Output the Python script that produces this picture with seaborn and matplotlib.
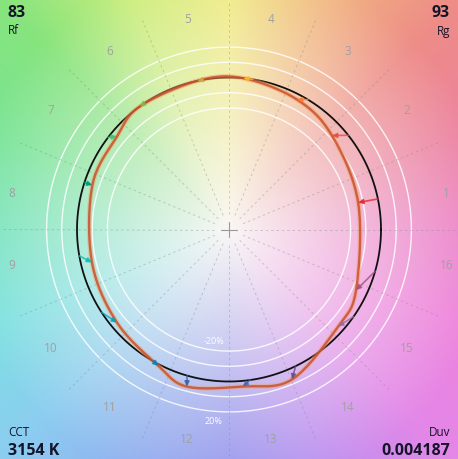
import numpy as np
import pandas as pd
import matplotlib
matplotlib.use("Agg")
import matplotlib.pyplot as plt
import seaborn as sns

# ---------------- data ----------------
bins = list(range(1, 17))
bin_labels = [str(b) for b in bins]
# reference (start) hue angle of each bin's arrow, degrees
ref_angle = [11.6, 38.3, 58.7, 81.0, 101.0, 124.0, 142.7, 162.0,
             190.0, 213.0, 240.0, 254.0, 278.0, 296.0, 325.0, 344.0]
# test (end) hue angle and relative chroma of each bin
test_angle = [11.8, 42.4, 62.4, 84.7, 102.0, 126.0, 140.3, 162.0,
              193.5, 219.7, 242.6, 255.0, 275.0, 292.8, 318.4, 334.5]
test_chroma = [0.868, 0.917, 0.965, 1.0, 1.0, 1.0, 0.958, 0.945,
               0.927, 0.958, 1.01, 1.07, 1.037, 1.07, 0.96, 0.926]
bin_colors = ["#e62828", "#e74b4b", "#fb812e", "#ffb529", "#cba946", "#7ebb42",
              "#41c06d", "#009c7c", "#16bcb0", "#00a4bf", "#0085c3", "#3b62aa",
              "#4568ae", "#6a4e85", "#9d69a1", "#a74f81"]
ring_levels = [0.8, 0.9, 1.1, 1.2]
Rf, Rg = "83", "93"
CCT, Duv = "3154 K", "0.004187"

# background hue anchors (angle deg, rgb at full saturation)
bg_angles = [0, 22.5, 45, 67.5, 90, 112.5, 135, 157.5, 180, 202.5, 225, 247.5,
             270, 292.5, 315, 337.5, 360]
bg_rgb = [(236, 128, 200), (236, 130, 160), (238, 140, 135), (242, 185, 130),
          (240, 235, 130), (205, 238, 125), (135, 228, 125), (120, 228, 150),
          (120, 228, 190), (125, 225, 225), (140, 205, 240), (145, 175, 240),
          (150, 150, 238), (190, 145, 240), (228, 135, 232), (238, 130, 220),
          (236, 128, 200)]


def closed_smooth(xs, ys, n=20):
    """Periodic Catmull-Rom rendering of a closed polygon (drawing only)."""
    P = np.column_stack([xs, ys])
    m = len(P)
    out = []
    for i in range(m):
        p0, p1, p2, p3 = P[(i - 1) % m], P[i], P[(i + 1) % m], P[(i + 2) % m]
        for s in np.linspace(0, 1, n, endpoint=False):
            s2, s3 = s * s, s * s * s
            out.append(0.5 * ((2 * p1) + (-p0 + p2) * s + (2 * p0 - 5 * p1 + 4 * p2 - p3) * s2
                              + (-p0 + 3 * p1 - 3 * p2 + p3) * s3))
    out.append(out[0])
    out = np.array(out)
    return out[:, 0], out[:, 1]


# ---------------- figure ----------------
sns.set_theme(style="white")
W, H = 458, 459
fig = plt.figure(figsize=(W / 100, H / 100), dpi=100)
ax = fig.add_axes([0, 0, 1, 1])
S = 152.0  # px per unit radius
xl = (-229 / S, 229 / S)
yl = (-229.5 / S, 229.5 / S)
ax.set_xlim(*xl)
ax.set_ylim(*yl)
ax.set_aspect("equal")
ax.axis("off")

# background colour field
yy, xx = np.mgrid[yl[1]:yl[0]:complex(0, H), xl[0]:xl[1]:complex(0, W)]
rr = np.hypot(xx, yy)
ph = np.degrees(np.arctan2(yy, xx)) % 360
img = np.zeros((H, W, 3))
bg = np.array(bg_rgb, dtype=float)
for c in range(3):
    img[..., c] = np.interp(ph, bg_angles, bg[:, c])
t = np.clip(rr / 1.75, 0, 1)[..., None] ** 0.95
white = np.array([250, 247, 245], dtype=float)
img = (white * (1 - t) + img * t) / 255.0
ax.imshow(img, extent=[xl[0], xl[1], yl[0], yl[1]], origin="upper", zorder=0)

# white rings
th = np.linspace(0, 2 * np.pi, 400)
for lv in ring_levels:
    ax.plot(lv * np.cos(th), lv * np.sin(th), color="white", lw=1.0, alpha=0.85, zorder=1)

# dashed bin boundaries
for k in range(16):
    a = np.radians(22.5 * k)
    ax.plot([0.1 * np.cos(a), 1.5 * np.cos(a)], [0.1 * np.sin(a), 1.5 * np.sin(a)],
            color="#8a8a8a", lw=0.7, ls=(0, (2.5, 3)), alpha=0.4, zorder=1)
# center cross
ax.plot([-0.05, 0.05], [0, 0], color="#999999", lw=0.8, zorder=1)
ax.plot([0, 0], [-0.05, 0.05], color="#999999", lw=0.8, zorder=1)

# bin labels
for k, lab in enumerate(bin_labels):
    a = np.radians(11.25 + 22.5 * k)
    r = 1.41
    x, y = r * np.cos(a), r * np.sin(a)
    if abs(np.cos(a)) > 0.95:
        x = np.sign(x) * 1.43
        y = y * 0.85
    ax.text(x, y, lab, ha="center", va="center", fontsize=8.5, color="#a0a0a0",
            family="Open Sans", zorder=2)

ax.text(-0.1, -0.74, "-20%", color="white", fontsize=6.5, ha="center", va="center",
        family="Open Sans", zorder=2)
ax.text(-0.1, -1.26, "20%", color="white", fontsize=6.5, ha="center", va="center",
        family="Open Sans", zorder=2)

# reference circle (black)
ref_df = pd.DataFrame({"x": np.cos(th), "y": np.sin(th)})
sns.lineplot(data=ref_df, x="x", y="y", sort=False, estimator=None,
             color="#111111", lw=1.3, ax=ax, zorder=3, legend=False)

# test curve
ta = np.radians(np.array(test_angle))
tc = np.array(test_chroma)
px, py = tc * np.cos(ta), tc * np.sin(ta)
sx, sy = closed_smooth(px, py)
test_df = pd.DataFrame({"x": sx, "y": sy})
ax.plot(sx, sy, color="#f0a060", lw=3.4, alpha=0.45, zorder=4, solid_joinstyle="round")
sns.lineplot(data=test_df, x="x", y="y", sort=False, estimator=None,
             color="#c9502f", lw=1.7, alpha=0.85, ax=ax, zorder=5, legend=False)

# arrows
for k in range(16):
    a0 = np.radians(ref_angle[k])
    x0, y0 = np.cos(a0), np.sin(a0)
    ax.annotate("", xy=(px[k], py[k]), xytext=(x0, y0),
                arrowprops=dict(arrowstyle="-|>", color=bin_colors[k], lw=1.2,
                                alpha=0.8, mutation_scale=7, shrinkA=0, shrinkB=0),
                zorder=6)

ax.set_xlabel("")
ax.set_ylabel("")

# corner texts
tc_col = "#15152a"
fig.text(8 / W, 1 - 13 / H, Rf, fontsize=11.5, fontweight="bold", color=tc_col,
         family="Open Sans", va="center", ha="left")
fig.text(8 / W, 1 - 31 / H, "Rf", fontsize=8.5, color=tc_col, family="Open Sans",
         va="center", ha="left")
fig.text(1 - 8 / W, 1 - 13 / H, Rg, fontsize=11.5, fontweight="bold", color=tc_col,
         family="Open Sans", va="center", ha="right")
fig.text(1 - 8 / W, 1 - 31 / H, "Rg", fontsize=8.5, color=tc_col, family="Open Sans",
         va="center", ha="right")
fig.text(8 / W, 1 - 433 / H, "CCT", fontsize=8.5, color=tc_col, family="Open Sans",
         va="center", ha="left")
fig.text(8 / W, 1 - 451 / H, CCT, fontsize=11.5, fontweight="bold", color=tc_col,
         family="Open Sans", va="center", ha="left")
fig.text(1 - 8 / W, 1 - 433 / H, "Duv", fontsize=8.5, color=tc_col, family="Open Sans",
         va="center", ha="right")
fig.text(1 - 8 / W, 1 - 451 / H, Duv, fontsize=11.5, fontweight="bold", color=tc_col,
         family="Open Sans", va="center", ha="right")

fig.savefig("out.png", dpi=100)
